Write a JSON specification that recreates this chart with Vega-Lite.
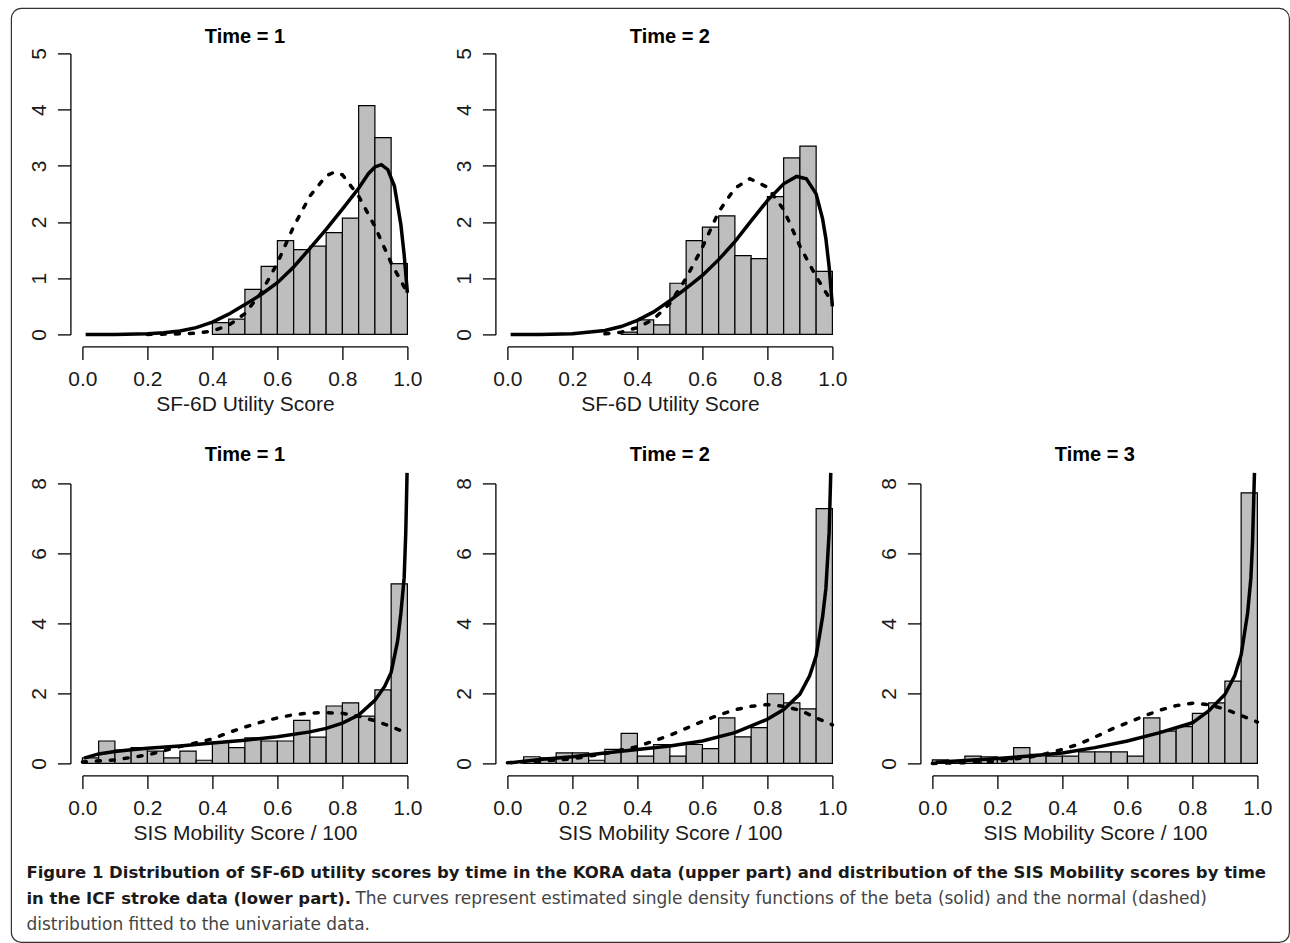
{
  "$schema": "https://vega.github.io/schema/vega-lite/v6.json",
  "background": "white",
  "padding": {"left": 10.4, "top": 7.4, "right": 0, "bottom": 0},
  "config": {
    "view": {"stroke": null},
    "axis": {"grid": false, "domainColor": "black", "domainWidth": 1.3, "tickColor": "black", "tickWidth": 1.3, "tickSize": 13, "labelFont": "Liberation Sans", "labelFontSize": 21, "labelColor": "#1a1a1a", "titleFont": "Liberation Sans", "titleFontSize": 21, "titleFontWeight": "normal", "titleColor": "#1a1a1a", "offset": 12, "labelFlush": false, "labelOverlap": false},
    "axisX": {"labelPadding": 9, "titlePadding": 4},
    "axisY": {"labelAngle": 270, "labelAlign": "center", "labelBaseline": "alphabetic", "labelPadding": 12},
    "title": {"font": "Liberation Sans", "fontSize": 20, "fontWeight": "bold", "color": "black", "offset": 1, "anchor": "middle", "frame": "group"}
  },
  "datasets": {
    "bars": [
      {"p": "A1", "x": 0.40, "xe": 0.45, "d": 0.21}, {"p": "A1", "x": 0.45, "xe": 0.50, "d": 0.27}, {"p": "A1", "x": 0.50, "xe": 0.55, "d": 0.80}, {"p": "A1", "x": 0.55, "xe": 0.60, "d": 1.21}, {"p": "A1", "x": 0.60, "xe": 0.65, "d": 1.67}, {"p": "A1", "x": 0.65, "xe": 0.70, "d": 1.51}, {"p": "A1", "x": 0.70, "xe": 0.75, "d": 1.57}, {"p": "A1", "x": 0.75, "xe": 0.80, "d": 1.81}, {"p": "A1", "x": 0.80, "xe": 0.85, "d": 2.07}, {"p": "A1", "x": 0.85, "xe": 0.90, "d": 4.07}, {"p": "A1", "x": 0.90, "xe": 0.95, "d": 3.50}, {"p": "A1", "x": 0.95, "xe": 1.00, "d": 1.26},
      {"p": "A2", "x": 0.35, "xe": 0.40, "d": 0.04}, {"p": "A2", "x": 0.40, "xe": 0.45, "d": 0.26}, {"p": "A2", "x": 0.45, "xe": 0.50, "d": 0.17}, {"p": "A2", "x": 0.50, "xe": 0.55, "d": 0.91}, {"p": "A2", "x": 0.55, "xe": 0.60, "d": 1.67}, {"p": "A2", "x": 0.60, "xe": 0.65, "d": 1.91}, {"p": "A2", "x": 0.65, "xe": 0.70, "d": 2.11}, {"p": "A2", "x": 0.70, "xe": 0.75, "d": 1.40}, {"p": "A2", "x": 0.75, "xe": 0.80, "d": 1.35}, {"p": "A2", "x": 0.80, "xe": 0.85, "d": 2.45}, {"p": "A2", "x": 0.85, "xe": 0.90, "d": 3.14}, {"p": "A2", "x": 0.90, "xe": 0.95, "d": 3.35}, {"p": "A2", "x": 0.95, "xe": 1.00, "d": 1.12},
      {"p": "B1", "x": 0.00, "xe": 0.05, "d": 0.16}, {"p": "B1", "x": 0.05, "xe": 0.10, "d": 0.64}, {"p": "B1", "x": 0.10, "xe": 0.15, "d": 0.38}, {"p": "B1", "x": 0.15, "xe": 0.20, "d": 0.45}, {"p": "B1", "x": 0.20, "xe": 0.25, "d": 0.35}, {"p": "B1", "x": 0.25, "xe": 0.30, "d": 0.16}, {"p": "B1", "x": 0.30, "xe": 0.35, "d": 0.35}, {"p": "B1", "x": 0.35, "xe": 0.40, "d": 0.09}, {"p": "B1", "x": 0.40, "xe": 0.45, "d": 0.61}, {"p": "B1", "x": 0.45, "xe": 0.50, "d": 0.45}, {"p": "B1", "x": 0.50, "xe": 0.55, "d": 0.73}, {"p": "B1", "x": 0.55, "xe": 0.60, "d": 0.64}, {"p": "B1", "x": 0.60, "xe": 0.65, "d": 0.64}, {"p": "B1", "x": 0.65, "xe": 0.70, "d": 1.23}, {"p": "B1", "x": 0.70, "xe": 0.75, "d": 0.75}, {"p": "B1", "x": 0.75, "xe": 0.80, "d": 1.64}, {"p": "B1", "x": 0.80, "xe": 0.85, "d": 1.73}, {"p": "B1", "x": 0.85, "xe": 0.90, "d": 1.35}, {"p": "B1", "x": 0.90, "xe": 0.95, "d": 2.10}, {"p": "B1", "x": 0.95, "xe": 1.00, "d": 5.13},
      {"p": "B2", "x": 0.05, "xe": 0.10, "d": 0.19}, {"p": "B2", "x": 0.10, "xe": 0.15, "d": 0.16}, {"p": "B2", "x": 0.15, "xe": 0.20, "d": 0.30}, {"p": "B2", "x": 0.20, "xe": 0.25, "d": 0.30}, {"p": "B2", "x": 0.25, "xe": 0.30, "d": 0.09}, {"p": "B2", "x": 0.30, "xe": 0.35, "d": 0.40}, {"p": "B2", "x": 0.35, "xe": 0.40, "d": 0.86}, {"p": "B2", "x": 0.40, "xe": 0.45, "d": 0.21}, {"p": "B2", "x": 0.45, "xe": 0.50, "d": 0.54}, {"p": "B2", "x": 0.50, "xe": 0.55, "d": 0.21}, {"p": "B2", "x": 0.55, "xe": 0.60, "d": 0.54}, {"p": "B2", "x": 0.60, "xe": 0.65, "d": 0.42}, {"p": "B2", "x": 0.65, "xe": 0.70, "d": 1.30}, {"p": "B2", "x": 0.70, "xe": 0.75, "d": 0.76}, {"p": "B2", "x": 0.75, "xe": 0.80, "d": 1.02}, {"p": "B2", "x": 0.80, "xe": 0.85, "d": 1.99}, {"p": "B2", "x": 0.85, "xe": 0.90, "d": 1.73}, {"p": "B2", "x": 0.90, "xe": 0.95, "d": 1.56}, {"p": "B2", "x": 0.95, "xe": 1.00, "d": 7.28},
      {"p": "B3", "x": 0.00, "xe": 0.05, "d": 0.10}, {"p": "B3", "x": 0.05, "xe": 0.10, "d": 0.08}, {"p": "B3", "x": 0.10, "xe": 0.15, "d": 0.21}, {"p": "B3", "x": 0.15, "xe": 0.20, "d": 0.19}, {"p": "B3", "x": 0.20, "xe": 0.25, "d": 0.11}, {"p": "B3", "x": 0.25, "xe": 0.30, "d": 0.45}, {"p": "B3", "x": 0.30, "xe": 0.35, "d": 0.26}, {"p": "B3", "x": 0.35, "xe": 0.40, "d": 0.21}, {"p": "B3", "x": 0.40, "xe": 0.45, "d": 0.21}, {"p": "B3", "x": 0.45, "xe": 0.50, "d": 0.33}, {"p": "B3", "x": 0.50, "xe": 0.55, "d": 0.33}, {"p": "B3", "x": 0.55, "xe": 0.60, "d": 0.33}, {"p": "B3", "x": 0.60, "xe": 0.65, "d": 0.21}, {"p": "B3", "x": 0.65, "xe": 0.70, "d": 1.30}, {"p": "B3", "x": 0.70, "xe": 0.75, "d": 0.92}, {"p": "B3", "x": 0.75, "xe": 0.80, "d": 1.05}, {"p": "B3", "x": 0.80, "xe": 0.85, "d": 1.43}, {"p": "B3", "x": 0.85, "xe": 0.90, "d": 1.73}, {"p": "B3", "x": 0.90, "xe": 0.95, "d": 2.35}, {"p": "B3", "x": 0.95, "xe": 1.00, "d": 7.73}
    ],
    "curves": [
      {"p": "A1", "c": "b", "x": 0.01, "d": 0}, {"p": "A1", "c": "b", "x": 0.1, "d": 0}, {"p": "A1", "c": "b", "x": 0.2, "d": 0.01}, {"p": "A1", "c": "b", "x": 0.25, "d": 0.03}, {"p": "A1", "c": "b", "x": 0.3, "d": 0.06}, {"p": "A1", "c": "b", "x": 0.35, "d": 0.12}, {"p": "A1", "c": "b", "x": 0.4, "d": 0.22}, {"p": "A1", "c": "b", "x": 0.45, "d": 0.36}, {"p": "A1", "c": "b", "x": 0.5, "d": 0.53}, {"p": "A1", "c": "b", "x": 0.55, "d": 0.71}, {"p": "A1", "c": "b", "x": 0.6, "d": 0.92}, {"p": "A1", "c": "b", "x": 0.65, "d": 1.2}, {"p": "A1", "c": "b", "x": 0.7, "d": 1.53}, {"p": "A1", "c": "b", "x": 0.75, "d": 1.87}, {"p": "A1", "c": "b", "x": 0.8, "d": 2.23}, {"p": "A1", "c": "b", "x": 0.85, "d": 2.6}, {"p": "A1", "c": "b", "x": 0.88, "d": 2.86}, {"p": "A1", "c": "b", "x": 0.9, "d": 2.98}, {"p": "A1", "c": "b", "x": 0.92, "d": 3.02}, {"p": "A1", "c": "b", "x": 0.94, "d": 2.93}, {"p": "A1", "c": "b", "x": 0.96, "d": 2.64}, {"p": "A1", "c": "b", "x": 0.98, "d": 1.95}, {"p": "A1", "c": "b", "x": 0.99, "d": 1.42}, {"p": "A1", "c": "b", "x": 1.0, "d": 0.74},
      {"p": "A1", "c": "n", "x": 0.2, "d": 0}, {"p": "A1", "c": "n", "x": 0.3, "d": 0.01}, {"p": "A1", "c": "n", "x": 0.35, "d": 0.02}, {"p": "A1", "c": "n", "x": 0.4, "d": 0.06}, {"p": "A1", "c": "n", "x": 0.45, "d": 0.16}, {"p": "A1", "c": "n", "x": 0.5, "d": 0.37}, {"p": "A1", "c": "n", "x": 0.55, "d": 0.74}, {"p": "A1", "c": "n", "x": 0.6, "d": 1.27}, {"p": "A1", "c": "n", "x": 0.65, "d": 1.92}, {"p": "A1", "c": "n", "x": 0.7, "d": 2.46}, {"p": "A1", "c": "n", "x": 0.75, "d": 2.82}, {"p": "A1", "c": "n", "x": 0.776, "d": 2.89}, {"p": "A1", "c": "n", "x": 0.8, "d": 2.84}, {"p": "A1", "c": "n", "x": 0.85, "d": 2.46}, {"p": "A1", "c": "n", "x": 0.9, "d": 1.92}, {"p": "A1", "c": "n", "x": 0.95, "d": 1.27}, {"p": "A1", "c": "n", "x": 1.0, "d": 0.74},
      {"p": "A2", "c": "b", "x": 0.01, "d": 0}, {"p": "A2", "c": "b", "x": 0.1, "d": 0}, {"p": "A2", "c": "b", "x": 0.2, "d": 0.01}, {"p": "A2", "c": "b", "x": 0.3, "d": 0.07}, {"p": "A2", "c": "b", "x": 0.35, "d": 0.14}, {"p": "A2", "c": "b", "x": 0.4, "d": 0.25}, {"p": "A2", "c": "b", "x": 0.45, "d": 0.4}, {"p": "A2", "c": "b", "x": 0.5, "d": 0.6}, {"p": "A2", "c": "b", "x": 0.55, "d": 0.82}, {"p": "A2", "c": "b", "x": 0.6, "d": 1.05}, {"p": "A2", "c": "b", "x": 0.65, "d": 1.33}, {"p": "A2", "c": "b", "x": 0.7, "d": 1.65}, {"p": "A2", "c": "b", "x": 0.75, "d": 2.02}, {"p": "A2", "c": "b", "x": 0.8, "d": 2.38}, {"p": "A2", "c": "b", "x": 0.85, "d": 2.68}, {"p": "A2", "c": "b", "x": 0.89, "d": 2.81}, {"p": "A2", "c": "b", "x": 0.92, "d": 2.77}, {"p": "A2", "c": "b", "x": 0.95, "d": 2.5}, {"p": "A2", "c": "b", "x": 0.97, "d": 2.05}, {"p": "A2", "c": "b", "x": 0.98, "d": 1.7}, {"p": "A2", "c": "b", "x": 0.99, "d": 1.2}, {"p": "A2", "c": "b", "x": 1.0, "d": 0.5},
      {"p": "A2", "c": "n", "x": 0.3, "d": 0.01}, {"p": "A2", "c": "n", "x": 0.35, "d": 0.04}, {"p": "A2", "c": "n", "x": 0.4, "d": 0.12}, {"p": "A2", "c": "n", "x": 0.45, "d": 0.27}, {"p": "A2", "c": "n", "x": 0.5, "d": 0.55}, {"p": "A2", "c": "n", "x": 0.55, "d": 1.0}, {"p": "A2", "c": "n", "x": 0.6, "d": 1.55}, {"p": "A2", "c": "n", "x": 0.65, "d": 2.18}, {"p": "A2", "c": "n", "x": 0.7, "d": 2.6}, {"p": "A2", "c": "n", "x": 0.746, "d": 2.77}, {"p": "A2", "c": "n", "x": 0.8, "d": 2.62}, {"p": "A2", "c": "n", "x": 0.85, "d": 2.22}, {"p": "A2", "c": "n", "x": 0.9, "d": 1.57}, {"p": "A2", "c": "n", "x": 0.95, "d": 1.03}, {"p": "A2", "c": "n", "x": 1.0, "d": 0.56},
      {"p": "B1", "c": "b", "x": 0.005, "d": 0.15}, {"p": "B1", "c": "b", "x": 0.05, "d": 0.27}, {"p": "B1", "c": "b", "x": 0.1, "d": 0.34}, {"p": "B1", "c": "b", "x": 0.15, "d": 0.39}, {"p": "B1", "c": "b", "x": 0.2, "d": 0.43}, {"p": "B1", "c": "b", "x": 0.3, "d": 0.5}, {"p": "B1", "c": "b", "x": 0.4, "d": 0.58}, {"p": "B1", "c": "b", "x": 0.5, "d": 0.66}, {"p": "B1", "c": "b", "x": 0.6, "d": 0.76}, {"p": "B1", "c": "b", "x": 0.7, "d": 0.9}, {"p": "B1", "c": "b", "x": 0.75, "d": 1.0}, {"p": "B1", "c": "b", "x": 0.8, "d": 1.15}, {"p": "B1", "c": "b", "x": 0.85, "d": 1.38}, {"p": "B1", "c": "b", "x": 0.9, "d": 1.8}, {"p": "B1", "c": "b", "x": 0.93, "d": 2.2}, {"p": "B1", "c": "b", "x": 0.95, "d": 2.6}, {"p": "B1", "c": "b", "x": 0.97, "d": 3.5}, {"p": "B1", "c": "b", "x": 0.98, "d": 4.3}, {"p": "B1", "c": "b", "x": 0.99, "d": 5.3}, {"p": "B1", "c": "b", "x": 0.995, "d": 6.6}, {"p": "B1", "c": "b", "x": 0.999, "d": 8.3},
      {"p": "B1", "c": "n", "x": 0.0, "d": 0.04}, {"p": "B1", "c": "n", "x": 0.1, "d": 0.1}, {"p": "B1", "c": "n", "x": 0.2, "d": 0.24}, {"p": "B1", "c": "n", "x": 0.3, "d": 0.48}, {"p": "B1", "c": "n", "x": 0.4, "d": 0.7}, {"p": "B1", "c": "n", "x": 0.45, "d": 0.88}, {"p": "B1", "c": "n", "x": 0.5, "d": 1.04}, {"p": "B1", "c": "n", "x": 0.55, "d": 1.18}, {"p": "B1", "c": "n", "x": 0.6, "d": 1.3}, {"p": "B1", "c": "n", "x": 0.65, "d": 1.39}, {"p": "B1", "c": "n", "x": 0.7, "d": 1.44}, {"p": "B1", "c": "n", "x": 0.75, "d": 1.45}, {"p": "B1", "c": "n", "x": 0.8, "d": 1.43}, {"p": "B1", "c": "n", "x": 0.85, "d": 1.35}, {"p": "B1", "c": "n", "x": 0.9, "d": 1.22}, {"p": "B1", "c": "n", "x": 0.95, "d": 1.05}, {"p": "B1", "c": "n", "x": 1.0, "d": 0.86},
      {"p": "B2", "c": "b", "x": 0.01, "d": 0.02}, {"p": "B2", "c": "b", "x": 0.1, "d": 0.11}, {"p": "B2", "c": "b", "x": 0.2, "d": 0.19}, {"p": "B2", "c": "b", "x": 0.3, "d": 0.3}, {"p": "B2", "c": "b", "x": 0.4, "d": 0.4}, {"p": "B2", "c": "b", "x": 0.5, "d": 0.5}, {"p": "B2", "c": "b", "x": 0.6, "d": 0.64}, {"p": "B2", "c": "b", "x": 0.7, "d": 0.88}, {"p": "B2", "c": "b", "x": 0.8, "d": 1.26}, {"p": "B2", "c": "b", "x": 0.85, "d": 1.54}, {"p": "B2", "c": "b", "x": 0.9, "d": 1.98}, {"p": "B2", "c": "b", "x": 0.93, "d": 2.5}, {"p": "B2", "c": "b", "x": 0.95, "d": 3.07}, {"p": "B2", "c": "b", "x": 0.97, "d": 4.2}, {"p": "B2", "c": "b", "x": 0.98, "d": 5.0}, {"p": "B2", "c": "b", "x": 0.99, "d": 6.6}, {"p": "B2", "c": "b", "x": 0.995, "d": 8.3},
      {"p": "B2", "c": "n", "x": 0.0, "d": 0.02}, {"p": "B2", "c": "n", "x": 0.1, "d": 0.06}, {"p": "B2", "c": "n", "x": 0.2, "d": 0.13}, {"p": "B2", "c": "n", "x": 0.3, "d": 0.28}, {"p": "B2", "c": "n", "x": 0.4, "d": 0.48}, {"p": "B2", "c": "n", "x": 0.45, "d": 0.64}, {"p": "B2", "c": "n", "x": 0.5, "d": 0.8}, {"p": "B2", "c": "n", "x": 0.55, "d": 1.0}, {"p": "B2", "c": "n", "x": 0.6, "d": 1.2}, {"p": "B2", "c": "n", "x": 0.65, "d": 1.38}, {"p": "B2", "c": "n", "x": 0.7, "d": 1.53}, {"p": "B2", "c": "n", "x": 0.75, "d": 1.63}, {"p": "B2", "c": "n", "x": 0.8, "d": 1.68}, {"p": "B2", "c": "n", "x": 0.85, "d": 1.63}, {"p": "B2", "c": "n", "x": 0.9, "d": 1.52}, {"p": "B2", "c": "n", "x": 0.95, "d": 1.3}, {"p": "B2", "c": "n", "x": 1.0, "d": 1.1},
      {"p": "B3", "c": "b", "x": 0.01, "d": 0.03}, {"p": "B3", "c": "b", "x": 0.1, "d": 0.08}, {"p": "B3", "c": "b", "x": 0.2, "d": 0.14}, {"p": "B3", "c": "b", "x": 0.3, "d": 0.21}, {"p": "B3", "c": "b", "x": 0.4, "d": 0.3}, {"p": "B3", "c": "b", "x": 0.5, "d": 0.45}, {"p": "B3", "c": "b", "x": 0.6, "d": 0.64}, {"p": "B3", "c": "b", "x": 0.7, "d": 0.88}, {"p": "B3", "c": "b", "x": 0.8, "d": 1.16}, {"p": "B3", "c": "b", "x": 0.85, "d": 1.5}, {"p": "B3", "c": "b", "x": 0.9, "d": 1.97}, {"p": "B3", "c": "b", "x": 0.93, "d": 2.5}, {"p": "B3", "c": "b", "x": 0.95, "d": 3.1}, {"p": "B3", "c": "b", "x": 0.97, "d": 4.3}, {"p": "B3", "c": "b", "x": 0.98, "d": 5.3}, {"p": "B3", "c": "b", "x": 0.985, "d": 6.3}, {"p": "B3", "c": "b", "x": 0.991, "d": 8.3},
      {"p": "B3", "c": "n", "x": 0.0, "d": 0.0}, {"p": "B3", "c": "n", "x": 0.1, "d": 0.02}, {"p": "B3", "c": "n", "x": 0.2, "d": 0.06}, {"p": "B3", "c": "n", "x": 0.3, "d": 0.18}, {"p": "B3", "c": "n", "x": 0.35, "d": 0.28}, {"p": "B3", "c": "n", "x": 0.4, "d": 0.4}, {"p": "B3", "c": "n", "x": 0.45, "d": 0.55}, {"p": "B3", "c": "n", "x": 0.5, "d": 0.75}, {"p": "B3", "c": "n", "x": 0.55, "d": 0.97}, {"p": "B3", "c": "n", "x": 0.6, "d": 1.16}, {"p": "B3", "c": "n", "x": 0.65, "d": 1.35}, {"p": "B3", "c": "n", "x": 0.7, "d": 1.52}, {"p": "B3", "c": "n", "x": 0.75, "d": 1.65}, {"p": "B3", "c": "n", "x": 0.8, "d": 1.72}, {"p": "B3", "c": "n", "x": 0.85, "d": 1.68}, {"p": "B3", "c": "n", "x": 0.9, "d": 1.55}, {"p": "B3", "c": "n", "x": 0.95, "d": 1.37}, {"p": "B3", "c": "n", "x": 1.0, "d": 1.18}
    ],
    "caption": [
      {"s": "b", "line": 1, "t": "Figure 1 Distribution of SF-6D utility scores by time in the KORA data (upper part) and distribution of the SIS Mobility scores by time"},
      {"s": "b", "line": 2, "t": "in the ICF stroke data (lower part)."},
      {"s": "n2", "line": 2, "t": "The curves represent estimated single density functions of the beta (solid) and the normal (dashed)"},
      {"s": "n3", "line": 3, "t": "distribution fitted to the univariate data."}
    ]
  },
  "vconcat": [
    {
      "vconcat": [
        {
          "hconcat": [
            {
              "width": 325, "height": 281,
              "title": {"text": "Time = 1"},
              "encoding": {
                "x": {"field": "x", "type": "quantitative", "scale": {"domain": [0, 1], "nice": false, "zero": false}, "axis": {"values": [0, 0.2, 0.4, 0.6, 0.8, 1], "format": ".1f", "title": "SF-6D Utility Score"}},
                "y": {"field": "d", "type": "quantitative", "scale": {"domain": [0, 5], "nice": false}, "axis": {"values": [0, 1, 2, 3, 4, 5], "format": "d", "title": null}}
              },
              "layer": [
                {"data": {"name": "bars"}, "transform": [{"filter": "datum.p == 'A1'"}], "mark": {"type": "rect", "fill": "#bebebe", "stroke": "black", "strokeWidth": 1.2}, "encoding": {"x2": {"field": "xe"}, "y2": {"datum": 0}}},
                {"data": {"name": "curves"}, "transform": [{"filter": "datum.p == 'A1' && datum.c == 'n'"}], "mark": {"type": "line", "color": "black", "strokeWidth": 3.5, "strokeDash": [4, 10], "strokeCap": "round"}},
                {"data": {"name": "curves"}, "transform": [{"filter": "datum.p == 'A1' && datum.c == 'b'"}], "mark": {"type": "line", "color": "black", "strokeWidth": 3.5}}
              ]
            },
            {
              "width": 325, "height": 281,
              "title": {"text": "Time = 2"},
              "encoding": {
                "x": {"field": "x", "type": "quantitative", "scale": {"domain": [0, 1], "nice": false, "zero": false}, "axis": {"values": [0, 0.2, 0.4, 0.6, 0.8, 1], "format": ".1f", "title": "SF-6D Utility Score"}},
                "y": {"field": "d", "type": "quantitative", "scale": {"domain": [0, 5], "nice": false}, "axis": {"values": [0, 1, 2, 3, 4, 5], "format": "d", "title": null}}
              },
              "layer": [
                {"data": {"name": "bars"}, "transform": [{"filter": "datum.p == 'A2'"}], "mark": {"type": "rect", "fill": "#bebebe", "stroke": "black", "strokeWidth": 1.2}, "encoding": {"x2": {"field": "xe"}, "y2": {"datum": 0}}},
                {"data": {"name": "curves"}, "transform": [{"filter": "datum.p == 'A2' && datum.c == 'n'"}], "mark": {"type": "line", "color": "black", "strokeWidth": 3.5, "strokeDash": [4, 10], "strokeCap": "round"}},
                {"data": {"name": "curves"}, "transform": [{"filter": "datum.p == 'A2' && datum.c == 'b'"}], "mark": {"type": "line", "color": "black", "strokeWidth": 3.5}}
              ]
            }
          ],
          "spacing": 100, "bounds": "flush"
        },
        {
          "hconcat": [
            {
              "width": 325, "height": 280,
              "title": {"text": "Time = 1"},
              "encoding": {
                "x": {"field": "x", "type": "quantitative", "scale": {"domain": [0, 1], "nice": false, "zero": false}, "axis": {"values": [0, 0.2, 0.4, 0.6, 0.8, 1], "format": ".1f", "title": "SIS Mobility Score / 100"}},
                "y": {"field": "d", "type": "quantitative", "scale": {"domain": [0, 8], "nice": false}, "axis": {"values": [0, 2, 4, 6, 8], "format": "d", "title": null}}
              },
              "layer": [
                {"data": {"name": "bars"}, "transform": [{"filter": "datum.p == 'B1'"}], "mark": {"type": "rect", "fill": "#bebebe", "stroke": "black", "strokeWidth": 1.2}, "encoding": {"x2": {"field": "xe"}, "y2": {"datum": 0}}},
                {"data": {"name": "curves"}, "transform": [{"filter": "datum.p == 'B1' && datum.c == 'n'"}], "mark": {"type": "line", "color": "black", "strokeWidth": 3.5, "strokeDash": [4, 10], "strokeCap": "round"}},
                {"data": {"name": "curves"}, "transform": [{"filter": "datum.p == 'B1' && datum.c == 'b'"}], "mark": {"type": "line", "color": "black", "strokeWidth": 3.5}}
              ]
            },
            {
              "width": 325, "height": 280,
              "title": {"text": "Time = 2"},
              "encoding": {
                "x": {"field": "x", "type": "quantitative", "scale": {"domain": [0, 1], "nice": false, "zero": false}, "axis": {"values": [0, 0.2, 0.4, 0.6, 0.8, 1], "format": ".1f", "title": "SIS Mobility Score / 100"}},
                "y": {"field": "d", "type": "quantitative", "scale": {"domain": [0, 8], "nice": false}, "axis": {"values": [0, 2, 4, 6, 8], "format": "d", "title": null}}
              },
              "layer": [
                {"data": {"name": "bars"}, "transform": [{"filter": "datum.p == 'B2'"}], "mark": {"type": "rect", "fill": "#bebebe", "stroke": "black", "strokeWidth": 1.2}, "encoding": {"x2": {"field": "xe"}, "y2": {"datum": 0}}},
                {"data": {"name": "curves"}, "transform": [{"filter": "datum.p == 'B2' && datum.c == 'n'"}], "mark": {"type": "line", "color": "black", "strokeWidth": 3.5, "strokeDash": [4, 10], "strokeCap": "round"}},
                {"data": {"name": "curves"}, "transform": [{"filter": "datum.p == 'B2' && datum.c == 'b'"}], "mark": {"type": "line", "color": "black", "strokeWidth": 3.5}}
              ]
            },
            {
              "width": 325, "height": 280,
              "title": {"text": "Time = 3"},
              "encoding": {
                "x": {"field": "x", "type": "quantitative", "scale": {"domain": [0, 1], "nice": false, "zero": false}, "axis": {"values": [0, 0.2, 0.4, 0.6, 0.8, 1], "format": ".1f", "title": "SIS Mobility Score / 100"}},
                "y": {"field": "d", "type": "quantitative", "scale": {"domain": [0, 8], "nice": false}, "axis": {"values": [0, 2, 4, 6, 8], "format": "d", "title": null}}
              },
              "layer": [
                {"data": {"name": "bars"}, "transform": [{"filter": "datum.p == 'B3'"}], "mark": {"type": "rect", "fill": "#bebebe", "stroke": "black", "strokeWidth": 1.2}, "encoding": {"x2": {"field": "xe"}, "y2": {"datum": 0}}},
                {"data": {"name": "curves"}, "transform": [{"filter": "datum.p == 'B3' && datum.c == 'n'"}], "mark": {"type": "line", "color": "black", "strokeWidth": 3.5, "strokeDash": [4, 10], "strokeCap": "round"}},
                {"data": {"name": "curves"}, "transform": [{"filter": "datum.p == 'B3' && datum.c == 'b'"}], "mark": {"type": "line", "color": "black", "strokeWidth": 3.5}}
              ]
            }
          ],
          "spacing": 100, "bounds": "flush"
        }
      ],
      "spacing": 30
    },
    {
      "width": 1176, "height": 60,
      "layer": [
        {"data": {"values": [{"frame": "figure border"}]},
         "mark": {"type": "rect", "fill": "transparent", "stroke": "#333333", "strokeWidth": 1.2, "cornerRadius": 10},
         "encoding": {"x": {"value": -71}, "x2": {"value": 1207}, "y": {"value": -856}, "y2": {"value": 78}}},
        {"data": {"name": "caption"}, "transform": [{"filter": "datum.s == 'b'"}],
         "mark": {"type": "text", "align": "left", "baseline": "alphabetic", "font": "DejaVu Sans", "fontSize": 16.5, "fontWeight": "bold", "color": "#1a1a1a", "dx": -56},
         "encoding": {
           "x": {"datum": 0, "type": "quantitative", "scale": {"domain": [0, 1], "nice": false, "zero": false}, "axis": null},
           "y": {"field": "line", "type": "quantitative", "scale": {"domain": [1, 3], "range": [14, 66], "nice": false, "zero": false}, "axis": null},
           "text": {"field": "t", "type": "nominal"}
         }},
        {"data": {"name": "caption"}, "transform": [{"filter": "datum.s == 'n2'"}],
         "mark": {"type": "text", "align": "left", "baseline": "alphabetic", "font": "DejaVu Sans", "fontSize": 17, "fontWeight": "normal", "color": "#444444", "dx": 273},
         "encoding": {
           "x": {"datum": 0, "type": "quantitative", "scale": {"domain": [0, 1], "nice": false, "zero": false}, "axis": null},
           "y": {"field": "line", "type": "quantitative", "scale": {"domain": [1, 3], "range": [14, 66], "nice": false, "zero": false}, "axis": null},
           "text": {"field": "t", "type": "nominal"}
         }},
        {"data": {"name": "caption"}, "transform": [{"filter": "datum.s == 'n3'"}],
         "mark": {"type": "text", "align": "left", "baseline": "alphabetic", "font": "DejaVu Sans", "fontSize": 17, "fontWeight": "normal", "color": "#444444", "dx": -56},
         "encoding": {
           "x": {"datum": 0, "type": "quantitative", "scale": {"domain": [0, 1], "nice": false, "zero": false}, "axis": null},
           "y": {"field": "line", "type": "quantitative", "scale": {"domain": [1, 3], "range": [14, 66], "nice": false, "zero": false}, "axis": null},
           "text": {"field": "t", "type": "nominal"}
         }}
      ]
    }
  ],
  "spacing": -836
}
